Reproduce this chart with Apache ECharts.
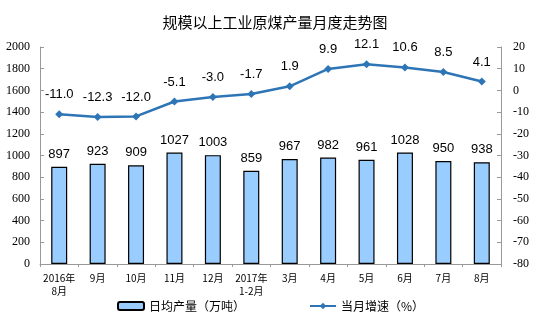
<!DOCTYPE html>
<html><head><meta charset="utf-8">
<script src="https://cdn.jsdelivr.net/npm/echarts@6/dist/echarts.min.js"></script>
<style>html,body{margin:0;padding:0;background:#fff}#c{width:550px;height:332px}</style>
</head><body><div id="c"></div>
<script>
const categories = ['2016年\n8月','9月','10月','11月','12月','2017年\n1-2月','3月','4月','5月','6月','7月','8月'];
const dailyOutput = [897, 923, 909, 1027, 1003, 859, 967, 982, 961, 1028, 950, 938];
const growthRate = [-11.0, -12.3, -12.0, -5.1, -3.0, -1.7, 1.9, 9.9, 12.1, 10.6, 8.5, 4.1];
const barName = '日均产量（万吨）';
const lineName = '当月增速（%）';

const chart = echarts.init(document.getElementById('c'));
const tickFont = {fontFamily: 'Liberation Serif', fontSize: 12, color: '#000'};
chart.setOption({
  animation: false,
  title: {text: '规模以上工业原煤产量月度走势图', left: 'center', top: 10,
    textStyle: {fontFamily: 'Noto Sans CJK SC', fontSize: 15, fontWeight: 'normal', color: '#000'}},
  grid: {left: 40, right: 49, top: 47, bottom: 68},
  legend: {left: 112, top: 295, itemGap: 64, itemWidth: 26, itemHeight: 8,
    textStyle: {fontFamily: 'Noto Sans CJK SC', fontSize: 12, color: '#000'},
    data: [{name: barName}, {name: lineName}]},
  xAxis: {type: 'category', data: categories,
    axisLine: {lineStyle: {color: '#999'}},
    axisTick: {show: true, length: 3, lineStyle: {color: '#999'}},
    axisLabel: {interval: 0, margin: 8, lineHeight: 13, fontFamily: 'Noto Sans CJK SC', fontSize: 10, color: '#000'}},
  yAxis: [
    {type: 'value', min: 0, max: 2000, interval: 200,
      axisLine: {show: true, lineStyle: {color: '#999'}},
      axisTick: {show: true, inside: true, length: 4, lineStyle: {color: '#999'}},
      splitLine: {show: false},
      axisLabel: Object.assign({margin: 10, formatter: v => String(v)}, tickFont)},
    {type: 'value', min: -80, max: 20, interval: 10,
      axisLine: {show: true, lineStyle: {color: '#999'}},
      axisTick: {show: true, inside: true, length: 4, lineStyle: {color: '#999'}},
      splitLine: {show: false},
      axisLabel: Object.assign({margin: 12, formatter: v => String(v)}, tickFont)}
  ],
  series: [
    {name: barName, type: 'bar', data: dailyOutput, barWidth: 16, yAxisIndex: 0,
      itemStyle: {color: '#99CCFF', borderColor: '#000', borderWidth: 1.2},
      label: {show: true, position: 'top', distance: 6, fontFamily: 'Liberation Sans', fontSize: 13, color: '#000'}},
    {name: lineName, type: 'line', data: growthRate, yAxisIndex: 1,
      symbol: 'diamond', symbolSize: 8,
      lineStyle: {color: '#2E75B6', width: 2.5}, itemStyle: {color: '#2E75B6'},
      label: {show: true, position: 'top', distance: 9, fontFamily: 'Liberation Sans', fontSize: 13, color: '#000',
        formatter: p => p.value.toFixed(1)}}
  ]
});
</script></body></html>
